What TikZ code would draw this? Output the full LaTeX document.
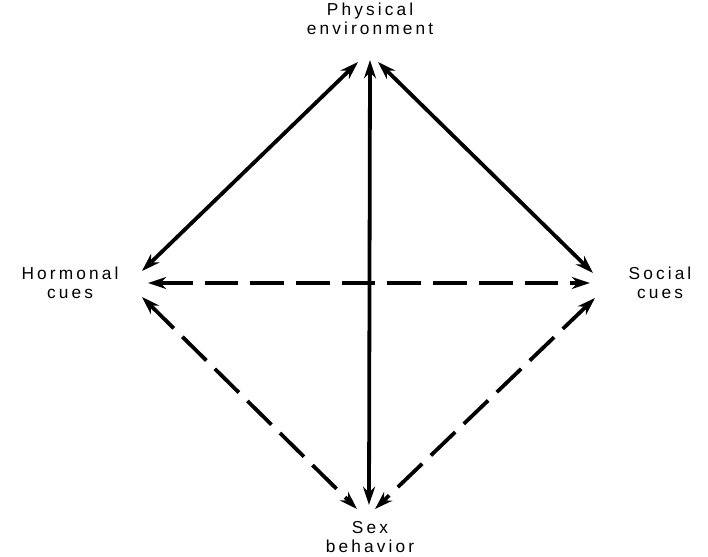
\documentclass[tikz,border=0pt]{standalone}
\usepackage{fontspec}
\setmainfont{Liberation Sans}[LetterSpace=18]
\usetikzlibrary{arrows.meta}

\tikzset{
    lbl/.style={align=center, inner sep=0pt, font=\fontsize{12.3}{13.2}\selectfont},
    link/.style={line width=2.7pt, {Stealth[length=13pt,width=8.5pt]}-{Stealth[length=13pt,width=8.5pt]}},
    weak/.style={link, dash pattern=on 24pt off 8.5pt}
}

\begin{document}
\begin{tikzpicture}[x=0.025cm, y=-0.025cm]
            \useasboundingbox (0,0) rectangle (708,557);
            % labels
            \node[lbl] (phys) at (370,19) {Physical\\environment};
            \node[lbl] (horm) at (70,283) {Hormonal\\cues};
            \node[lbl] (soc) at (660,283) {Social\\cues};
            \node[lbl] (sex) at (370,537) {Sex\\behavior};
            % arrow ends
            \coordinate (physL) at (358,62);
            \coordinate (physM) at (370,60);
            \coordinate (physR) at (378,62);
            \coordinate (hormU) at (142,271);
            \coordinate (hormM) at (148,283);
            \coordinate (hormD) at (142,297);
            \coordinate (socU) at (593,273);
            \coordinate (socM) at (590,283);
            \coordinate (socD) at (595,298);
            \coordinate (sexL) at (357,509);
            \coordinate (sexM) at (369,505);
            \coordinate (sexR) at (375,509);
            % solid links
            \draw [link] (physL) -- (hormU);
            \draw [link] (physR) -- (socU);
            \draw [link] (physM) -- (sexM);
            % dashed links
            \draw [weak] (hormM) -- (socM);
            \draw [weak] (hormD) -- (sexL);
            \draw [weak] (socD) -- (sexR);
        \end{tikzpicture}
\end{document}
